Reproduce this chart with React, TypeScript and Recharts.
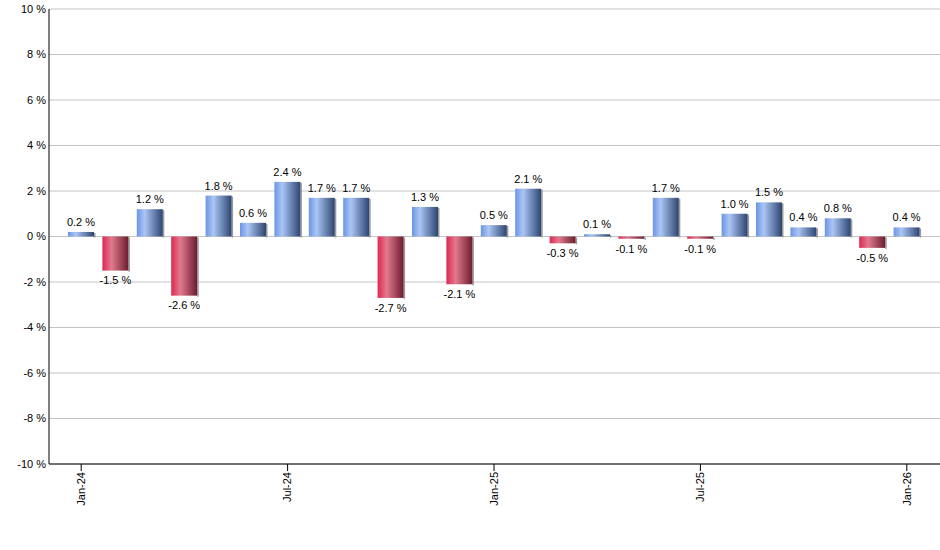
import React from 'react';
import { BarChart, Bar, XAxis, YAxis, CartesianGrid, LabelList } from 'recharts';

const months = [
  'Jan-24', 'Feb-24', 'Mar-24', 'Apr-24', 'May-24', 'Jun-24', 'Jul-24', 'Aug-24', 'Sep-24',
  'Oct-24', 'Nov-24', 'Dec-24', 'Jan-25', 'Feb-25', 'Mar-25', 'Apr-25', 'May-25', 'Jun-25',
  'Jul-25', 'Aug-25', 'Sep-25', 'Oct-25', 'Nov-25', 'Dec-25', 'Jan-26',
];

const returns = [
  0.2, -1.5, 1.2, -2.6, 1.8, 0.6, 2.4, 1.7, 1.7, -2.7, 1.3, -2.1, 0.5,
  2.1, -0.3, 0.1, -0.1, 1.7, -0.1, 1.0, 1.5, 0.4, 0.8, -0.5, 0.4,
];

const yTicks = [-10, -8, -6, -4, -2, 0, 2, 4, 6, 8, 10];

const chartData = months.map((m, i) => ({ month: m, value: returns[i] }));

const FONT = '"Liberation Sans", Arial, sans-serif';

// bar with horizontal gradient and a thin shadow on the right
const GradientBar = (props: any) => {
  const { x, y, width, height, payload } = props;
  const top = Math.min(y, y + height);
  const h = Math.abs(height);
  const neg = payload.value < 0;
  return (
    <g>
      <rect x={x + width} y={top + 1} width={1.5} height={h} fill="#9a9a9a" />
      <rect x={x} y={top} width={width} height={h} fill={neg ? 'url(#gradRed)' : 'url(#gradBlue)'} />
    </g>
  );
};

const ValueLabel = (props: any) => {
  const { x, y, width, height, value } = props;
  const top = Math.min(y, y + height);
  const bottom = Math.max(y, y + height);
  const cx = x + width / 2;
  const txt = `${Number(value).toFixed(1)} %`;
  if (value < 0) {
    return (
      <text x={cx} y={bottom + 5} dy="0.8em" textAnchor="middle" fontSize={11} fontFamily={FONT} fill="#000">
        {txt}
      </text>
    );
  }
  return (
    <text x={cx} y={top - 6} textAnchor="middle" fontSize={11} fontFamily={FONT} fill="#000">
      {txt}
    </text>
  );
};

const MonthTick = (props: any) => {
  const { x, y, payload } = props;
  return (
    <text
      x={x}
      y={y}
      dy="0.35em"
      transform={`rotate(-90 ${x} ${y})`}
      textAnchor="end"
      fontSize={11}
      fontFamily={FONT}
      fill="#000"
    >
      {payload.value}
    </text>
  );
};

export default function App() {
  return (
    <div style={{ position: 'absolute', left: 0, top: 0, width: 940, height: 550, background: '#fff' }}>
      <BarChart
        width={940}
        height={550}
        data={chartData}
        margin={{ top: 9, right: 0, bottom: 0, left: 0 }}
        barSize={26}
      >
        <defs>
          <linearGradient id="gradBlue" x1="0" y1="0" x2="1" y2="0">
            <stop offset="0%" stopColor="#6a94e4" />
            <stop offset="30%" stopColor="#abc6f5" />
            <stop offset="100%" stopColor="#2c4470" />
          </linearGradient>
          <linearGradient id="gradRed" x1="0" y1="0" x2="1" y2="0">
            <stop offset="0%" stopColor="#de2750" />
            <stop offset="35%" stopColor="#e27a8f" />
            <stop offset="100%" stopColor="#6b1c2e" />
          </linearGradient>
        </defs>
        <CartesianGrid vertical={false} stroke="#c4c4c4" />
        <XAxis
          dataKey="month"
          height={86}
          interval={5}
          padding={{ left: 15, right: 16 }}
          axisLine={{ stroke: '#000' }}
          tickLine={{ stroke: '#000' }}
          tickSize={7}
          tickMargin={1}
          tick={<MonthTick />}
        />
        <YAxis
          width={49}
          domain={[-10, 10]}
          ticks={yTicks}
          allowDataOverflow
          axisLine={{ stroke: '#000' }}
          tickLine={false}
          tickSize={0}
          tickMargin={3}
          tickFormatter={(v: number) => `${v} %`}
          tick={{ fontSize: 11, fontFamily: FONT, fill: '#000' }}
        />
        <Bar dataKey="value" shape={<GradientBar />} isAnimationActive={false}>
          <LabelList dataKey="value" content={<ValueLabel />} />
        </Bar>
      </BarChart>
    </div>
  );
}
